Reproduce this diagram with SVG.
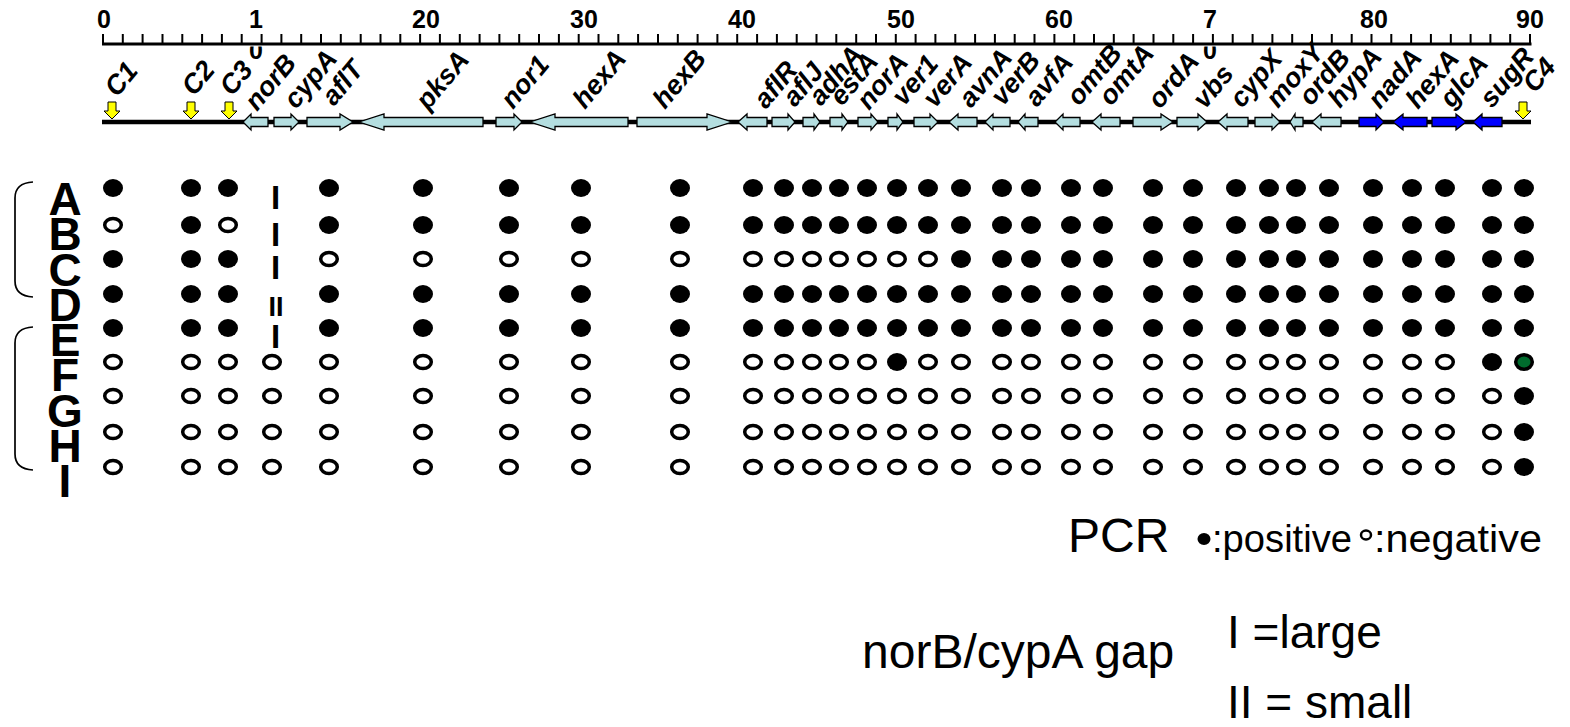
<svg xmlns="http://www.w3.org/2000/svg" xmlns:xlink="http://www.w3.org/1999/xlink" width="1570" height="727" viewBox="0 0 1570 727">
<style>
.num{font-family:"Liberation Sans",Arial,sans-serif;font-weight:bold;font-size:25px;text-anchor:middle;fill:#000}
.gl{font-family:"Liberation Sans",Arial,sans-serif;font-weight:bold;font-style:italic;font-size:27px;fill:#000}
.row{font-family:"Liberation Sans",Arial,sans-serif;font-weight:bold;font-size:46px;text-anchor:middle;fill:#000}
.gap{font-family:"Liberation Sans",Arial,sans-serif;font-weight:bold;font-size:33px;text-anchor:middle;fill:#000}
.leg{font-family:"Liberation Sans",Arial,sans-serif;font-size:46px;fill:#000}
.legs{font-family:"Liberation Sans",Arial,sans-serif;font-size:38px;fill:#000}
.lb{fill:#b4dee0;stroke:#000;stroke-width:1.3}
.db{fill:#0000ff;stroke:#000;stroke-width:1.3}
.yl{fill:#ffff00;stroke:#000;stroke-width:1}
.pos{fill:#000}
.neg{fill:#fff;stroke:#000;stroke-width:3.5}
.grn{fill:#006b2d;stroke:#000;stroke-width:3.5}
</style>
<defs>
<ellipse id="p" class="pos" cx="0" cy="0" rx="10" ry="9"/>
<ellipse id="n" class="neg" cx="0" cy="0" rx="8.3" ry="6.6"/>
<clipPath id="below"><rect x="0" y="46.5" width="1570" height="30"/></clipPath>
</defs>
<rect width="1570" height="727" fill="#fff"/>

<g id="ruler">
<line x1="102" y1="44" x2="1531.5" y2="44" stroke="#000" stroke-width="3"/>
<path stroke="#000" stroke-width="2" fill="none" d="M103 34V44M122.8 34V44M142.6 34V44M162.5 34V44M182.3 34V44M202.1 34V44M221.9 34V44M241.7 34V44M261.6 34V44M281.4 34V44M301.2 34V44M321 34V44M340.8 34V44M360.7 34V44M380.5 34V44M400.3 34V44M420.1 34V44M439.9 34V44M459.8 34V44M479.6 34V44M499.4 34V44M519.2 34V44M539 34V44M558.9 34V44M578.7 34V44M598.5 34V44M618.3 34V44M638.1 34V44M658 34V44M677.8 34V44M697.6 34V44M717.4 34V44M737.2 34V44M757.1 34V44M776.9 34V44M796.7 34V44M816.5 34V44M836.3 34V44M856.2 34V44M876 34V44M895.8 34V44M915.6 34V44M935.4 34V44M955.3 34V44M975.1 34V44M994.9 34V44M1014.7 34V44M1034.5 34V44M1054.4 34V44M1074.2 34V44M1094 34V44M1113.8 34V44M1133.6 34V44M1153.5 34V44M1173.3 34V44M1193.1 34V44M1212.9 34V44M1232.7 34V44M1252.6 34V44M1272.4 34V44M1292.2 34V44M1312 34V44M1331.8 34V44M1351.7 34V44M1371.5 34V44M1391.3 34V44M1411.1 34V44M1430.9 34V44M1450.8 34V44M1470.6 34V44M1490.4 34V44M1510.2 34V44M1530 34V44"/>
<text class="num" x="104" y="28">0</text>
<text class="num" x="256" y="28">1</text>
<text class="num" x="256" y="59" clip-path="url(#below)">0</text>
<text class="num" x="426" y="28">20</text>
<text class="num" x="584" y="28">30</text>
<text class="num" x="742" y="28">40</text>
<text class="num" x="901" y="28">50</text>
<text class="num" x="1059" y="28">60</text>
<text class="num" x="1210" y="28">7</text>
<text class="num" x="1210" y="59" clip-path="url(#below)">0</text>
<text class="num" x="1374" y="28">80</text>
<text class="num" x="1530" y="28">90</text>
</g>

<g id="track">
<line x1="102" y1="122" x2="1531" y2="122" stroke="#000" stroke-width="4.5"/>
</g>

<g id="markers">
<path class="yl" d="M108 102H116V111H120L112 119L104 111H108Z"/>
<path class="yl" d="M187 102H195V111H199L191 119L183 111H187Z"/>
<path class="yl" d="M225 102H233V111H237L229 119L221 111H225Z"/>
<path class="yl" d="M1519 102H1527V111H1531L1523 119L1515 111H1519Z"/>
</g>

<g id="genes">
<polygon class="lb" points="268,117.5 251,117.5 251,114 243,122 251,130 251,126.5 268,126.5"/>
<polygon class="lb" points="274,117.5 291,117.5 291,114 299,122 291,130 291,126.5 274,126.5"/>
<polygon class="lb" points="307,117.5 340,117.5 340,114 353,122 340,130 340,126.5 307,126.5"/>
<polygon class="lb" points="483,117.5 384,117.5 384,114 359,122 384,130 384,126.5 483,126.5"/>
<polygon class="lb" points="496,117.5 514,117.5 514,114 522,122 514,130 514,126.5 496,126.5"/>
<polygon class="lb" points="628,117.5 555,117.5 555,114 530,122 555,130 555,126.5 628,126.5"/>
<polygon class="lb" points="637,117.5 707,117.5 707,114 732,122 707,130 707,126.5 637,126.5"/>
<polygon class="lb" points="767,117.5 747,117.5 747,114 738,122 747,130 747,126.5 767,126.5"/>
<polygon class="lb" points="772,117.5 788,117.5 788,114 795,122 788,130 788,126.5 772,126.5"/>
<polygon class="lb" points="803,117.5 814,117.5 814,114 820,122 814,130 814,126.5 803,126.5"/>
<polygon class="lb" points="830,117.5 842,117.5 842,114 848,122 842,130 842,126.5 830,126.5"/>
<polygon class="lb" points="858,117.5 871,117.5 871,114 878,122 871,130 871,126.5 858,126.5"/>
<polygon class="lb" points="888,117.5 897,117.5 897,114 903,122 897,130 897,126.5 888,126.5"/>
<polygon class="lb" points="914,117.5 930,117.5 930,114 938,122 930,130 930,126.5 914,126.5"/>
<polygon class="lb" points="977,117.5 958,117.5 958,114 949,122 958,130 958,126.5 977,126.5"/>
<polygon class="lb" points="1010,117.5 993,117.5 993,114 985,122 993,130 993,126.5 1010,126.5"/>
<polygon class="lb" points="1038,117.5 1025,117.5 1025,114 1018,122 1025,130 1025,126.5 1038,126.5"/>
<polygon class="lb" points="1080,117.5 1063,117.5 1063,114 1055,122 1063,130 1063,126.5 1080,126.5"/>
<polygon class="lb" points="1120,117.5 1101,117.5 1101,114 1092,122 1101,130 1101,126.5 1120,126.5"/>
<polygon class="lb" points="1133,117.5 1161,117.5 1161,114 1173,122 1161,130 1161,126.5 1133,126.5"/>
<polygon class="lb" points="1177,117.5 1198,117.5 1198,114 1207,122 1198,130 1198,126.5 1177,126.5"/>
<polygon class="lb" points="1248,117.5 1227,117.5 1227,114 1218,122 1227,130 1227,126.5 1248,126.5"/>
<polygon class="lb" points="1255,117.5 1272,117.5 1272,114 1280,122 1272,130 1272,126.5 1255,126.5"/>
<polygon class="lb" points="1303,117.5 1295,117.5 1295,114 1290,122 1295,130 1295,126.5 1303,126.5"/>
<polygon class="lb" points="1341,117.5 1321,117.5 1321,114 1312,122 1321,130 1321,126.5 1341,126.5"/>
<polygon class="db" points="1359,117.5 1376,117.5 1376,114 1384,122 1376,130 1376,126.5 1359,126.5"/>
<polygon class="db" points="1427,117.5 1403,117.5 1403,114 1393,122 1403,130 1403,126.5 1427,126.5"/>
<polygon class="db" points="1432,117.5 1456,117.5 1456,114 1466,122 1456,130 1456,126.5 1432,126.5"/>
<polygon class="db" points="1502,117.5 1482,117.5 1482,114 1473,122 1482,130 1482,126.5 1502,126.5"/>
</g>

<g id="gene-labels" class="gl">
<text transform="translate(117,98) rotate(-50)">C1</text>
<text transform="translate(194,97) rotate(-50)">C2</text>
<text transform="translate(232,97) rotate(-50)">C3</text>
<text transform="translate(257,112) rotate(-50)">norB</text>
<text transform="translate(296,110) rotate(-50)">cypA</text>
<text transform="translate(334,107) rotate(-50)">aflT</text>
<text transform="translate(428,111) rotate(-50)">pksA</text>
<text transform="translate(513,110) rotate(-50)">nor1</text>
<text transform="translate(585,110) rotate(-50)">hexA</text>
<text transform="translate(665,110) rotate(-50)">hexB</text>
<text transform="translate(766,110) rotate(-50)">aflR</text>
<text transform="translate(795,108) rotate(-50)">aflJ</text>
<text transform="translate(821,107) rotate(-50)">adhA</text>
<text transform="translate(842,107) rotate(-50)">estA</text>
<text transform="translate(869,111) rotate(-50)">norA</text>
<text transform="translate(904,107) rotate(-50)">ver1</text>
<text transform="translate(935,109) rotate(-50)">verA</text>
<text transform="translate(971,109) rotate(-50)">avnA</text>
<text transform="translate(1003,107) rotate(-50)">verB</text>
<text transform="translate(1037,108) rotate(-50)">avfA</text>
<text transform="translate(1079,107) rotate(-50)">omtB</text>
<text transform="translate(1111,107) rotate(-50)">omtA</text>
<text transform="translate(1160,110) rotate(-50)">ordA</text>
<text transform="translate(1205,110) rotate(-50)">vbs</text>
<text transform="translate(1242,109) rotate(-50)">cypX</text>
<text transform="translate(1278,109) rotate(-50)">moxY</text>
<text transform="translate(1311,107) rotate(-50)">ordB</text>
<text transform="translate(1340,109) rotate(-50)">hypA</text>
<text transform="translate(1380,110) rotate(-50)">nadA</text>
<text transform="translate(1418,110) rotate(-50)">hexA</text>
<text transform="translate(1452,109) rotate(-50)">glcA</text>
<text transform="translate(1492,109) rotate(-50)">sugR</text>
<text transform="translate(1535,94) rotate(-50)">C4</text>
</g>

<g id="brackets" fill="none" stroke="#000" stroke-width="1.7">
<path d="M33 182Q15 183 15 198V281Q15 296 33 297"/>
<path d="M33 327Q15 328 15 343V454Q15 469 33 470"/>
</g>

<g id="row-labels" class="row">
<text x="65" y="215">A</text>
<text x="65" y="250.3">B</text>
<text x="65" y="285.5">C</text>
<text x="65" y="320.8">D</text>
<text x="65" y="356">E</text>
<text x="65" y="391.3">F</text>
<text x="65" y="426.5">G</text>
<text x="65" y="461.8">H</text>
<text x="65" y="497">I</text>
</g>

<g id="gap-marks" class="gap">
<text x="275.5" y="209">I</text>
<text x="275.5" y="246">I</text>
<text x="275.5" y="279">I</text>
<text x="276" y="316" style="font-size:27px">II</text>
<text x="275.5" y="348">I</text>
</g>

<g id="row-A">
<use href="#p" x="113" y="188"/><use href="#p" x="191" y="188"/><use href="#p" x="228" y="188"/>
<use href="#p" x="329" y="188"/><use href="#p" x="423" y="188"/><use href="#p" x="509" y="188"/><use href="#p" x="581" y="188"/><use href="#p" x="680" y="188"/>
<use href="#p" x="753" y="188"/><use href="#p" x="784" y="188"/><use href="#p" x="812" y="188"/><use href="#p" x="839" y="188"/><use href="#p" x="867" y="188"/><use href="#p" x="897" y="188"/><use href="#p" x="928" y="188"/><use href="#p" x="961" y="188"/><use href="#p" x="1002" y="188"/><use href="#p" x="1031" y="188"/><use href="#p" x="1071" y="188"/><use href="#p" x="1103" y="188"/>
<use href="#p" x="1153" y="188"/><use href="#p" x="1193" y="188"/><use href="#p" x="1236" y="188"/><use href="#p" x="1269" y="188"/><use href="#p" x="1296" y="188"/><use href="#p" x="1329" y="188"/><use href="#p" x="1373" y="188"/><use href="#p" x="1412" y="188"/><use href="#p" x="1445" y="188"/><use href="#p" x="1492" y="188"/><use href="#p" x="1524" y="188"/>
</g>
<g id="row-B">
<use href="#n" x="113" y="225"/><use href="#p" x="191" y="225"/><use href="#n" x="228" y="225"/>
<use href="#p" x="329" y="225"/><use href="#p" x="423" y="225"/><use href="#p" x="509" y="225"/><use href="#p" x="581" y="225"/><use href="#p" x="680" y="225"/>
<use href="#p" x="753" y="225"/><use href="#p" x="784" y="225"/><use href="#p" x="812" y="225"/><use href="#p" x="839" y="225"/><use href="#p" x="867" y="225"/><use href="#p" x="897" y="225"/><use href="#p" x="928" y="225"/><use href="#p" x="961" y="225"/><use href="#p" x="1002" y="225"/><use href="#p" x="1031" y="225"/><use href="#p" x="1071" y="225"/><use href="#p" x="1103" y="225"/>
<use href="#p" x="1153" y="225"/><use href="#p" x="1193" y="225"/><use href="#p" x="1236" y="225"/><use href="#p" x="1269" y="225"/><use href="#p" x="1296" y="225"/><use href="#p" x="1329" y="225"/><use href="#p" x="1373" y="225"/><use href="#p" x="1412" y="225"/><use href="#p" x="1445" y="225"/><use href="#p" x="1492" y="225"/><use href="#p" x="1524" y="225"/>
</g>
<g id="row-C">
<use href="#p" x="113" y="259"/><use href="#p" x="191" y="259"/><use href="#p" x="228" y="259"/>
<use href="#n" x="329" y="259"/><use href="#n" x="423" y="259"/><use href="#n" x="509" y="259"/><use href="#n" x="581" y="259"/><use href="#n" x="680" y="259"/>
<use href="#n" x="753" y="259"/><use href="#n" x="784" y="259"/><use href="#n" x="812" y="259"/><use href="#n" x="839" y="259"/><use href="#n" x="867" y="259"/><use href="#n" x="897" y="259"/><use href="#n" x="928" y="259"/><use href="#p" x="961" y="259"/><use href="#p" x="1002" y="259"/><use href="#p" x="1031" y="259"/><use href="#p" x="1071" y="259"/><use href="#p" x="1103" y="259"/>
<use href="#p" x="1153" y="259"/><use href="#p" x="1193" y="259"/><use href="#p" x="1236" y="259"/><use href="#p" x="1269" y="259"/><use href="#p" x="1296" y="259"/><use href="#p" x="1329" y="259"/><use href="#p" x="1373" y="259"/><use href="#p" x="1412" y="259"/><use href="#p" x="1445" y="259"/><use href="#p" x="1492" y="259"/><use href="#p" x="1524" y="259"/>
</g>
<g id="row-D">
<use href="#p" x="113" y="294"/><use href="#p" x="191" y="294"/><use href="#p" x="228" y="294"/>
<use href="#p" x="329" y="294"/><use href="#p" x="423" y="294"/><use href="#p" x="509" y="294"/><use href="#p" x="581" y="294"/><use href="#p" x="680" y="294"/>
<use href="#p" x="753" y="294"/><use href="#p" x="784" y="294"/><use href="#p" x="812" y="294"/><use href="#p" x="839" y="294"/><use href="#p" x="867" y="294"/><use href="#p" x="897" y="294"/><use href="#p" x="928" y="294"/><use href="#p" x="961" y="294"/><use href="#p" x="1002" y="294"/><use href="#p" x="1031" y="294"/><use href="#p" x="1071" y="294"/><use href="#p" x="1103" y="294"/>
<use href="#p" x="1153" y="294"/><use href="#p" x="1193" y="294"/><use href="#p" x="1236" y="294"/><use href="#p" x="1269" y="294"/><use href="#p" x="1296" y="294"/><use href="#p" x="1329" y="294"/><use href="#p" x="1373" y="294"/><use href="#p" x="1412" y="294"/><use href="#p" x="1445" y="294"/><use href="#p" x="1492" y="294"/><use href="#p" x="1524" y="294"/>
</g>
<g id="row-E">
<use href="#p" x="113" y="328"/><use href="#p" x="191" y="328"/><use href="#p" x="228" y="328"/>
<use href="#p" x="329" y="328"/><use href="#p" x="423" y="328"/><use href="#p" x="509" y="328"/><use href="#p" x="581" y="328"/><use href="#p" x="680" y="328"/>
<use href="#p" x="753" y="328"/><use href="#p" x="784" y="328"/><use href="#p" x="812" y="328"/><use href="#p" x="839" y="328"/><use href="#p" x="867" y="328"/><use href="#p" x="897" y="328"/><use href="#p" x="928" y="328"/><use href="#p" x="961" y="328"/><use href="#p" x="1002" y="328"/><use href="#p" x="1031" y="328"/><use href="#p" x="1071" y="328"/><use href="#p" x="1103" y="328"/>
<use href="#p" x="1153" y="328"/><use href="#p" x="1193" y="328"/><use href="#p" x="1236" y="328"/><use href="#p" x="1269" y="328"/><use href="#p" x="1296" y="328"/><use href="#p" x="1329" y="328"/><use href="#p" x="1373" y="328"/><use href="#p" x="1412" y="328"/><use href="#p" x="1445" y="328"/><use href="#p" x="1492" y="328"/><use href="#p" x="1524" y="328"/>
</g>
<g id="row-F">
<use href="#n" x="113" y="362"/><use href="#n" x="191" y="362"/><use href="#n" x="228" y="362"/><use href="#n" x="272" y="362"/>
<use href="#n" x="329" y="362"/><use href="#n" x="423" y="362"/><use href="#n" x="509" y="362"/><use href="#n" x="581" y="362"/><use href="#n" x="680" y="362"/>
<use href="#n" x="753" y="362"/><use href="#n" x="784" y="362"/><use href="#n" x="812" y="362"/><use href="#n" x="839" y="362"/><use href="#n" x="867" y="362"/><use href="#p" x="897" y="362"/><use href="#n" x="928" y="362"/><use href="#n" x="961" y="362"/><use href="#n" x="1002" y="362"/><use href="#n" x="1031" y="362"/><use href="#n" x="1071" y="362"/><use href="#n" x="1103" y="362"/>
<use href="#n" x="1153" y="362"/><use href="#n" x="1193" y="362"/><use href="#n" x="1236" y="362"/><use href="#n" x="1269" y="362"/><use href="#n" x="1296" y="362"/><use href="#n" x="1329" y="362"/><use href="#n" x="1373" y="362"/><use href="#n" x="1412" y="362"/><use href="#n" x="1445" y="362"/><use href="#p" x="1492" y="362"/>
<ellipse class="grn" cx="1524" cy="362" rx="8.3" ry="7.2"/>
</g>
<g id="row-G">
<use href="#n" x="113" y="396"/><use href="#n" x="191" y="396"/><use href="#n" x="228" y="396"/><use href="#n" x="272" y="396"/>
<use href="#n" x="329" y="396"/><use href="#n" x="423" y="396"/><use href="#n" x="509" y="396"/><use href="#n" x="581" y="396"/><use href="#n" x="680" y="396"/>
<use href="#n" x="753" y="396"/><use href="#n" x="784" y="396"/><use href="#n" x="812" y="396"/><use href="#n" x="839" y="396"/><use href="#n" x="867" y="396"/><use href="#n" x="897" y="396"/><use href="#n" x="928" y="396"/><use href="#n" x="961" y="396"/><use href="#n" x="1002" y="396"/><use href="#n" x="1031" y="396"/><use href="#n" x="1071" y="396"/><use href="#n" x="1103" y="396"/>
<use href="#n" x="1153" y="396"/><use href="#n" x="1193" y="396"/><use href="#n" x="1236" y="396"/><use href="#n" x="1269" y="396"/><use href="#n" x="1296" y="396"/><use href="#n" x="1329" y="396"/><use href="#n" x="1373" y="396"/><use href="#n" x="1412" y="396"/><use href="#n" x="1445" y="396"/><use href="#n" x="1492" y="396"/><use href="#p" x="1524" y="396"/>
</g>
<g id="row-H">
<use href="#n" x="113" y="432"/><use href="#n" x="191" y="432"/><use href="#n" x="228" y="432"/><use href="#n" x="272" y="432"/>
<use href="#n" x="329" y="432"/><use href="#n" x="423" y="432"/><use href="#n" x="509" y="432"/><use href="#n" x="581" y="432"/><use href="#n" x="680" y="432"/>
<use href="#n" x="753" y="432"/><use href="#n" x="784" y="432"/><use href="#n" x="812" y="432"/><use href="#n" x="839" y="432"/><use href="#n" x="867" y="432"/><use href="#n" x="897" y="432"/><use href="#n" x="928" y="432"/><use href="#n" x="961" y="432"/><use href="#n" x="1002" y="432"/><use href="#n" x="1031" y="432"/><use href="#n" x="1071" y="432"/><use href="#n" x="1103" y="432"/>
<use href="#n" x="1153" y="432"/><use href="#n" x="1193" y="432"/><use href="#n" x="1236" y="432"/><use href="#n" x="1269" y="432"/><use href="#n" x="1296" y="432"/><use href="#n" x="1329" y="432"/><use href="#n" x="1373" y="432"/><use href="#n" x="1412" y="432"/><use href="#n" x="1445" y="432"/><use href="#n" x="1492" y="432"/><use href="#p" x="1524" y="432"/>
</g>
<g id="row-I">
<use href="#n" x="113" y="467"/><use href="#n" x="191" y="467"/><use href="#n" x="228" y="467"/><use href="#n" x="272" y="467"/>
<use href="#n" x="329" y="467"/><use href="#n" x="423" y="467"/><use href="#n" x="509" y="467"/><use href="#n" x="581" y="467"/><use href="#n" x="680" y="467"/>
<use href="#n" x="753" y="467"/><use href="#n" x="784" y="467"/><use href="#n" x="812" y="467"/><use href="#n" x="839" y="467"/><use href="#n" x="867" y="467"/><use href="#n" x="897" y="467"/><use href="#n" x="928" y="467"/><use href="#n" x="961" y="467"/><use href="#n" x="1002" y="467"/><use href="#n" x="1031" y="467"/><use href="#n" x="1071" y="467"/><use href="#n" x="1103" y="467"/>
<use href="#n" x="1153" y="467"/><use href="#n" x="1193" y="467"/><use href="#n" x="1236" y="467"/><use href="#n" x="1269" y="467"/><use href="#n" x="1296" y="467"/><use href="#n" x="1329" y="467"/><use href="#n" x="1373" y="467"/><use href="#n" x="1412" y="467"/><use href="#n" x="1445" y="467"/><use href="#n" x="1492" y="467"/><use href="#p" x="1524" y="467"/>
</g>

<g id="legend">
<text class="leg" x="1068" y="552" style="font-size:48px">PCR</text>
<ellipse class="pos" cx="1204" cy="539" rx="6.5" ry="6"/>
<text class="legs" x="1212" y="552" textLength="140" lengthAdjust="spacingAndGlyphs">:positive</text>
<ellipse fill="#fff" stroke="#000" stroke-width="2.5" cx="1366" cy="535" rx="5" ry="4.5"/>
<text class="legs" x="1374" y="552" textLength="168" lengthAdjust="spacingAndGlyphs">:negative</text>
<text class="leg" x="862" y="668" style="font-size:48px">norB/cypA gap</text>
<text class="leg" x="1227" y="648">I =large</text>
<text class="leg" x="1227" y="718">II = small</text>
</g>
</svg>
